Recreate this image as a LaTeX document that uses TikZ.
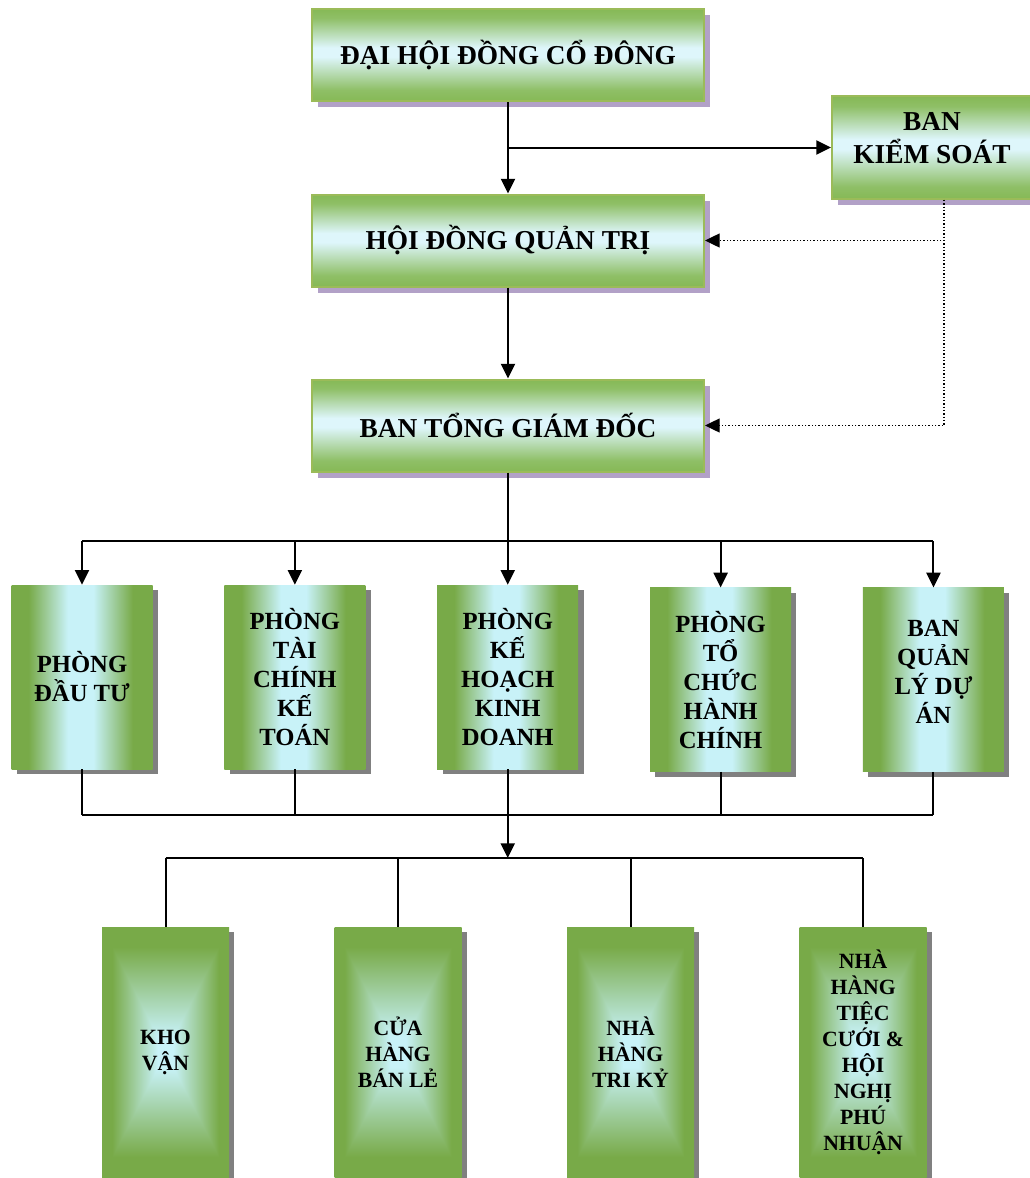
\documentclass[tikz,border=0pt]{standalone}
\usepackage{fontspec}
\setmainfont{Liberation Serif}
\usetikzlibrary{positioning,shadows,arrows.meta}
\definecolor{tgreen}{RGB}{134,185,86}
\definecolor{tcyan}{RGB}{222,246,251}
\definecolor{tborder}{RGB}{155,187,89}
\definecolor{tshadow}{RGB}{178,161,199}
\definecolor{dgreen}{RGB}{120,170,72}
\definecolor{dcyan}{RGB}{200,242,248}
\definecolor{dshadow}{RGB}{128,128,128}
\pgfdeclareverticalshading{topshade}{100bp}{color(0bp)=(tgreen); color(25bp)=(tgreen); color(31bp)=(tgreen!90!tcyan); color(49bp)=(tcyan); color(54bp)=(tcyan); color(70bp)=(tgreen!90!tcyan); color(75bp)=(tgreen); color(100bp)=(tgreen)}
\pgfdeclarehorizontalshading{deptshade}{100bp}{color(0bp)=(dgreen); color(25bp)=(dgreen); color(31bp)=(dgreen); color(45bp)=(dcyan); color(54bp)=(dcyan); color(68bp)=(dgreen); color(75bp)=(dgreen); color(100bp)=(dgreen)}
\pgfdeclarefunctionalshading{unitshade}{\pgfpointorigin}{\pgfpoint{100bp}{100bp}}{}{
  50 sub abs exch 50 sub abs
  2 copy lt {exch} if pop 25 div
  0.12 sub 0.72 div
  dup 0 lt {pop 0} if dup 1 gt {pop 1} if
  dup -0.313 mul 0.784 add
  exch dup -0.282 mul 0.949 add
  exch -0.691 mul 0.973 add
}
\tikzset{
	tshade/.style={
		drop shadow={shadow xshift=4.5pt, shadow yshift=-4.5pt, fill=tshadow, opacity=1}
	},
	gshade/.style={
		drop shadow={shadow xshift=4pt, shadow yshift=-4pt, fill=dshadow, opacity=1}
	}
}

\begin{document}
\begin{tikzpicture}[x=0.75pt,y=-0.75pt]
			\useasboundingbox (0,0) rectangle (1030,1178);
			\tikzstyle{upper}=[rectangle, draw=tborder, line width=1.5pt, shading=topshade, minimum width=294pt, minimum height=69pt, align=center, font=\fontsize{20.5}{24.75}\selectfont\bfseries, tshade]
			\tikzstyle{dept}=[rectangle, shading=deptshade, minimum width=105.75pt, minimum height=138pt, inner sep=1pt, align=center, font=\fontsize{18.5}{21.75}\selectfont\bfseries, gshade]
			\tikzstyle{unit}=[rectangle, shading=unitshade, minimum width=95.25pt, minimum height=187.5pt, inner sep=1pt, align=center, font=\fontsize{16.3}{19.5}\selectfont\bfseries, gshade]
			\tikzstyle{arr}=[line width=1.5pt, -{Triangle[length=11pt,width=10.5pt]}]
			\tikzstyle{link}=[line width=1.5pt]
			\tikzstyle{watch}=[line width=1pt, dash pattern=on 1pt off 1.5pt, -{Triangle[length=11pt,width=10.5pt]}]
			\node[upper] (dhcd) at (508,55) {ĐẠI HỘI ĐỒNG CỔ ĐÔNG};
			\node[upper] (hdqt) at (508,240.5) {HỘI ĐỒNG QUẢN TRỊ};
			\node[upper] (tgd) at (508,425.5) {BAN TỔNG GIÁM ĐỐC};
			\node[upper, minimum width=150pt, minimum height=77pt, text depth=14pt] (bks) at (932,147.5) {BAN\\KIỂM SOÁT};
			
			\node[dept] (pdt) at (82,677) {PHÒNG\\ĐẦU TƯ};
			\node[dept, right=53.5pt of pdt] (ptc) {PHÒNG\\TÀI\\CHÍNH\\KẾ\\TOÁN};
			\node[dept, right=53.5pt of ptc] (pkh) {PHÒNG\\KẾ\\HOẠCH\\KINH\\DOANH};
			\node[dept, right=53.5pt of pkh, yshift=-2pt] (ptk) {PHÒNG\\TỔ\\CHỨC\\HÀNH\\CHÍNH};
			\node[dept, right=53.5pt of ptk, text depth=12pt] (bql) {BAN\\QUẢN\\LÝ DỰ\\ÁN};
			
			\node[unit] (kho) at (165.5,1052) {KHO\\VẬN};
			\node[unit, right=78.75pt of kho] (cua) {CỬA\\HÀNG\\BÁN LẺ};
			\node[unit, right=78.75pt of cua] (ntk) {NHÀ\\HÀNG\\TRI KỶ};
			\node[unit, right=78.75pt of ntk] (ntc) {NHÀ\\HÀNG\\TIỆC\\CƯỚI \&\\HỘI\\NGHỊ\\PHÚ\\NHUẬN};
			
			\coordinate (j1) at (dhcd.south |- bks.west);
			\coordinate (kp) at ([xshift=9pt]bks.south);
			\coordinate (bus) at (0,541);
			\coordinate (bus2) at (0,815);
			\coordinate (bus3) at (0,858);
			
			\draw[arr] (dhcd) -- (hdqt);
			\draw[arr] (j1) -- (bks.west);
			\draw[arr] (hdqt) -- (tgd);
			\draw[watch] (kp) |- (hdqt.east);
			\draw[watch] (kp) |- (tgd.east);
			
			\draw[link] (pdt.north |- bus) -- (bql.north |- bus);
			\draw[arr] (tgd.south -| pkh) -- (pkh.north);
			\foreach \d in {pdt,ptc,ptk,bql}
				\draw[arr] (\d.north |- bus) -- (\d.north);
			
			\foreach \d in {pdt,ptc,pkh,ptk,bql}
				\draw[link] (\d.south) -- (\d.south |- bus2);
			\draw[link] (pdt.south |- bus2) -- (bql.south |- bus2);
			\draw[arr] (pkh.south |- bus2) -- (pkh.south |- bus3);
			
			\draw[link] (kho.north |- bus3) -- (ntc.north |- bus3);
			\foreach \u in {kho,cua,ntk,ntc}
				\draw[link] (\u.north |- bus3) -- (\u.north);
\end{tikzpicture}
\end{document}
